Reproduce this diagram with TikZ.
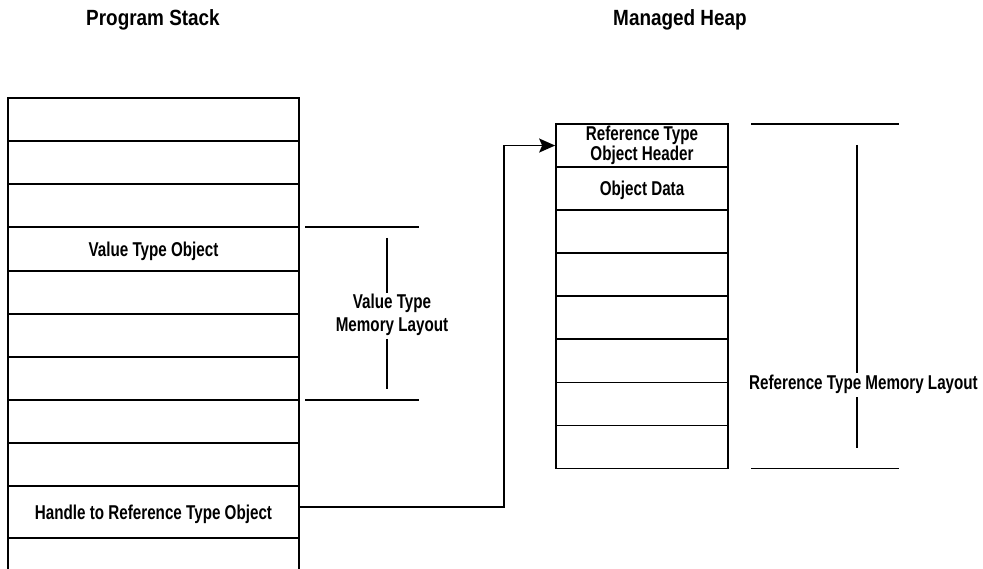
\documentclass[tikz,border=0pt]{standalone}
\usepackage{fontspec}
\newfontfamily\bodyfont[FakeStretch=0.76]{Liberation Sans Bold}
\newfontfamily\titlefont[FakeStretch=0.86]{Liberation Sans Bold}
\usetikzlibrary{arrows.meta}
\tikzset{
  cell/.style={draw, inner sep=0pt, font=\bodyfont\fontsize{20}{22.7}\selectfont},
  onel/.style={text height=14.3pt, text depth=0pt},
  scell/.style={cell, minimum width=291pt},
  hcell/.style={cell, minimum width=172pt, minimum height=43.06pt},
  lbl/.style={inner sep=0pt, font=\bodyfont\fontsize{20}{22.7}\selectfont, align=center},
  ttl/.style={inner sep=0pt, font=\titlefont\fontsize{22}{25}\selectfont, text height=15.8pt, text depth=0pt},
  arr/.style={-{Stealth[length=16pt,width=14pt,inset=3pt]}}
}
\begin{document}
\begin{tikzpicture}[x=1pt,y=-1pt,line width=1.7pt]
\useasboundingbox (0,0) rectangle (983,569);
\clip (0,0) rectangle (983,569);
% titles
\node[ttl] (tstack) at (153,18) {Program Stack};
\node[ttl] (theap) at (680,18) {Managed Heap};
% program stack
\node[scell, minimum height=43pt] (s1) at (153.5,119.5) {};
\node[scell, minimum height=43pt] (s2) at (153.5,162.5) {};
\node[scell, minimum height=43pt] (s3) at (153.5,205.5) {};
\node[scell, onel, minimum height=44pt] (s4) at (153.5,249) {Value Type Object};
\node[scell, minimum height=43pt] (s5) at (153.5,292.5) {};
\node[scell, minimum height=43pt] (s6) at (153.5,335.5) {};
\node[scell, minimum height=43pt] (s7) at (153.5,378.5) {};
\node[scell, minimum height=43pt] (s8) at (153.5,421.5) {};
\node[scell, minimum height=43pt] (s9) at (153.5,464.5) {};
\node[scell, onel, minimum height=52pt] (s10) at (153.5,512) {Handle to Reference Type Object};
\node[scell, minimum height=60pt] (s11) at (153.5,568) {};
% managed heap
\node[hcell, align=center] (h1) at (642,145.53) {Reference Type\\[-2.7pt]Object Header};
\node[hcell, onel] (h2) at (642,188.59) {Object Data};
\node[hcell] (h3) at (642,231.65) {};
\node[hcell] (h4) at (642,274.71) {};
\node[hcell] (h5) at (642,317.77) {};
\node[hcell] (h6) at (642,360.83) {};
\node[hcell] (h7) at (642,403.89) {};
\node[hcell] (h8) at (642,446.95) {};
% reference arrow
\coordinate (bend) at (504,300);
\draw[arr] ([yshift=5pt]s10.east) -| (bend |- h1.west) -- (h1.west);
% value type bracket
\coordinate (vtl) at (305,227);
\coordinate (vtr) at (419,227);
\coordinate (vbl) at (305,400);
\coordinate (vbr) at (419,400);
\coordinate (vv1) at (387,238);
\coordinate (vv2) at (387,293);
\coordinate (vv3) at (387,339);
\coordinate (vv4) at (387,389);
\draw (vtl) -- (vtr);
\draw (vbl) -- (vbr);
\draw (vv1) -- (vv2);
\draw (vv3) -- (vv4);
\node[lbl] (vlab) at (392,315) {Value Type\\Memory Layout};
% reference type bracket
\coordinate (rtl) at (751,124);
\coordinate (rtr) at (899,124);
\coordinate (rbl) at (751,468.5);
\coordinate (rbr) at (899,468.5);
\coordinate (rv1) at (857,145);
\coordinate (rv2) at (857,373);
\coordinate (rv3) at (857,397);
\coordinate (rv4) at (857,448);
\draw (rtl) -- (rtr);
\draw (rbl) -- (rbr);
\draw (rv1) -- (rv2);
\draw (rv3) -- (rv4);
\node[lbl] (rlab) at (863.5,384.5) {Reference Type Memory Layout};
\end{tikzpicture}
\end{document}
